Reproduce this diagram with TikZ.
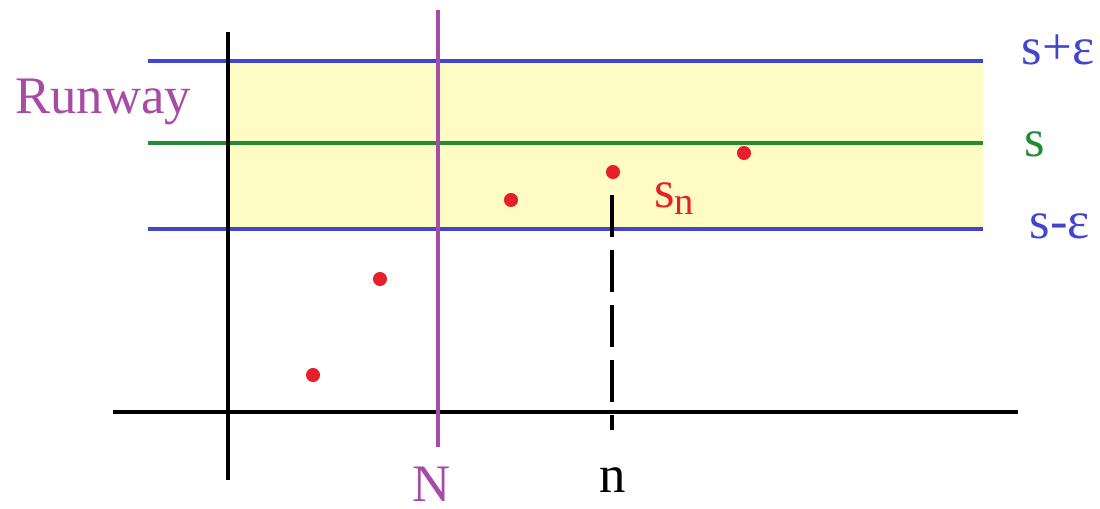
\documentclass[tikz,border=0pt]{standalone}
\usepackage{fontspec}
\setmainfont{Liberation Serif}
\definecolor{bandyellow}{RGB}{255,251,196}
\definecolor{lineblue}{RGB}{66,70,204}
\definecolor{linegreen}{RGB}{34,139,52}
\definecolor{linepurple}{RGB}{166,76,166}
\definecolor{dotred}{RGB}{232,30,40}
\tikzset{
  axis/.style={line width=2.2pt, black},
  bound/.style={line width=2.2pt, lineblue},
  limitline/.style={line width=2.2pt, linegreen},
  nline/.style={line width=2.2pt, linepurple},
  dot/.style={circle, fill=dotred, inner sep=0pt, minimum size=8pt},
  lbl/.style={font=\fontsize{30}{36}\selectfont, inner sep=0pt},
}
\begin{document}
\begin{tikzpicture}[x=0.02cm, y=-0.02cm]
\useasboundingbox (0,0) rectangle (1100,508);
% band
\fill[bandyellow] (228,61) rectangle (983,229);
% coordinates
\coordinate (bl1) at (148,61);  \coordinate (br1) at (983,61);
\coordinate (gl) at (148,143);  \coordinate (gr) at (983,143);
\coordinate (bl2) at (148,229); \coordinate (br2) at (983,229);
\coordinate (yt) at (228,32);   \coordinate (yb) at (228,480);
\coordinate (xl) at (113,412);  \coordinate (xr) at (1018,412);
\coordinate (Nt) at (438,10);   \coordinate (Nb) at (438,447);
\coordinate (nt) at (612,195);  \coordinate (nb) at (612,430);
% lines
\draw[bound] (bl1) -- (br1);
\draw[limitline] (gl) -- (gr);
\draw[bound] (bl2) -- (br2);
\draw[axis] (yt) -- (yb);
\draw[axis] (xl) -- (xr);
\draw[axis, line width=2.6pt, dash pattern=on 0.84cm off 0.26cm] (nt) -- (nb);
\draw[nline] (Nt) -- (Nb);
% dots
\node[dot] (d1) at (313,375) {};
\node[dot] (d2) at (380,279) {};
\node[dot] (d3) at (511,200) {};
\node[dot] (d4) at (613,172) {};
\node[dot] (d5) at (744,153) {};
% labels
\node[lbl, text=linepurple, anchor=base] (runway) at (103,113) {Runway};
\node[lbl, text=lineblue, anchor=base] (splus) at (1058,64) {s+ε};
\node[lbl, text=linegreen, anchor=base] (s) at (1035,156) {s};
\node[lbl, text=lineblue, anchor=base] (sminus) at (1060,238) {s-ε};
\node[lbl, text=dotred, anchor=base west] (sn) at (654,207) {s\raisebox{-0.3ex}{\fontsize{22}{26}\selectfont n}};
\node[lbl, text=linepurple, anchor=base] (N) at (432,501) {N};
\node[lbl, text=black, anchor=base] (n) at (613,492) {n};
\end{tikzpicture}
\end{document}
